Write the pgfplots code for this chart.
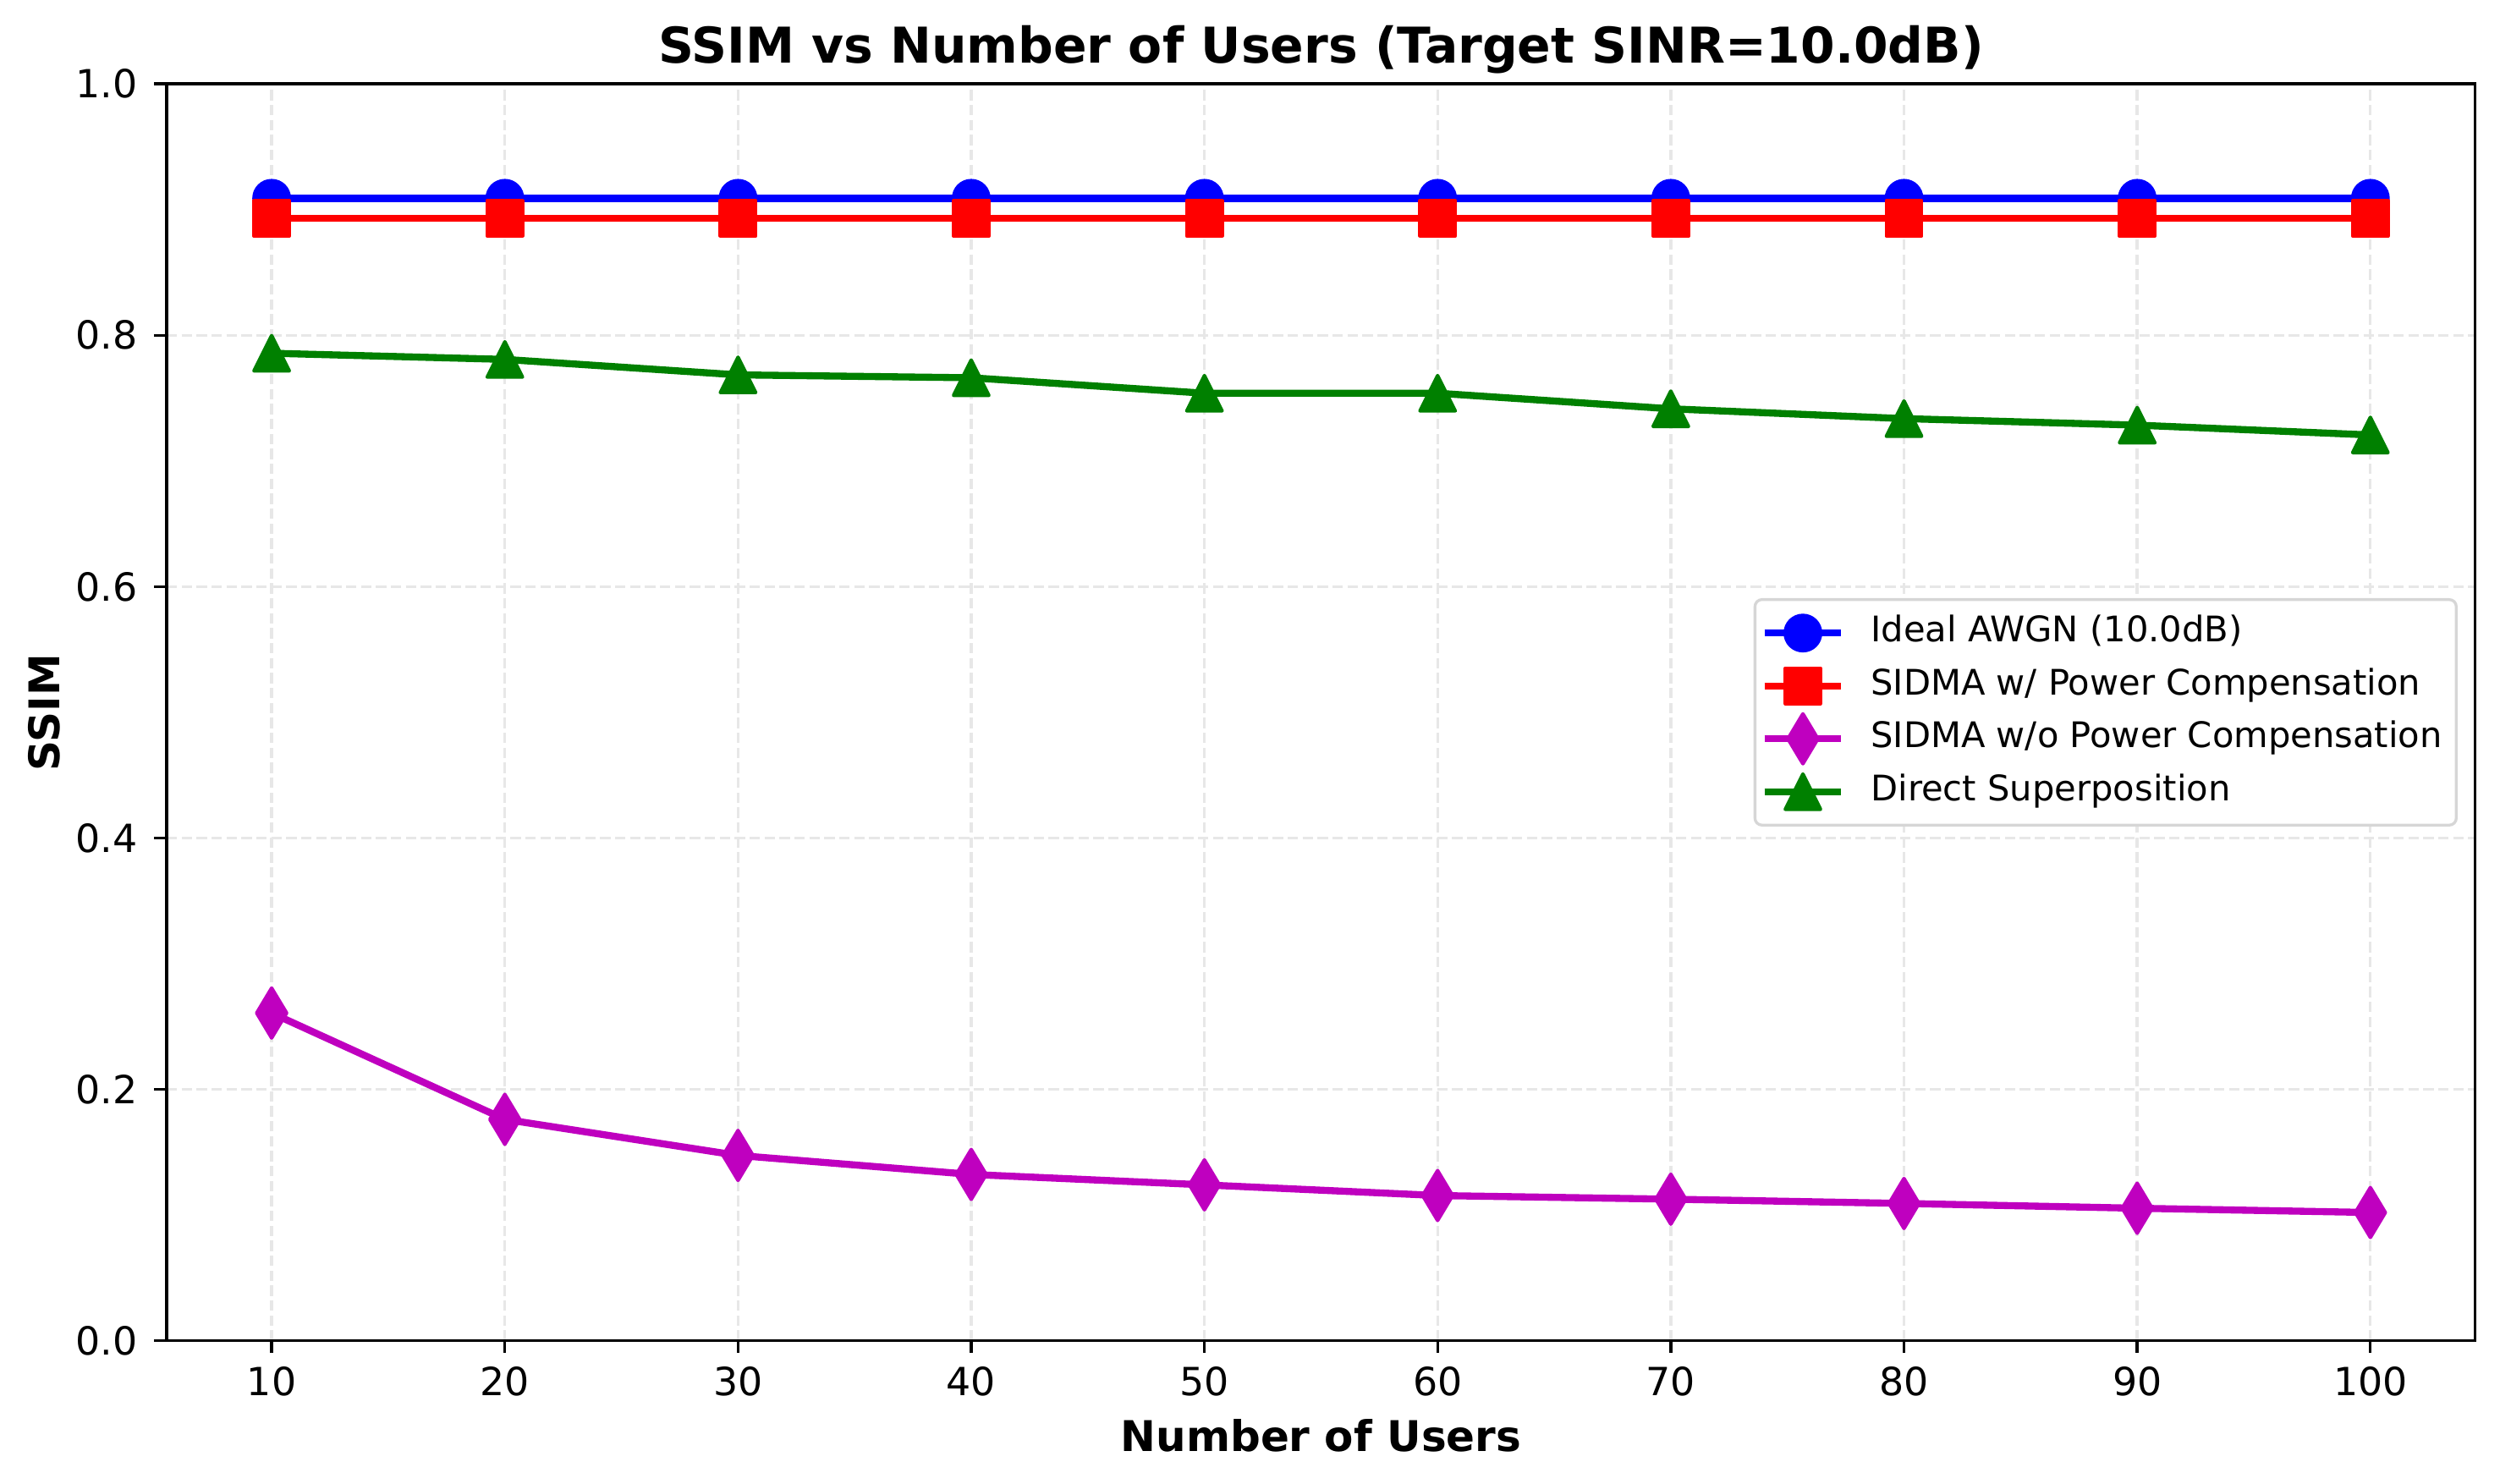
\documentclass[border=0pt]{standalone}
\usepackage{pgfplots}
\pgfplotsset{compat=1.18}
\usepackage{fontspec}
\setmainfont{DejaVu Sans}
\definecolor{mplblue}{rgb}{0,0,1}
\definecolor{mplred}{rgb}{1,0,0}
\definecolor{mplmag}{rgb}{0.75,0,0.75}
\definecolor{mplgreen}{rgb}{0,0.5,0}
\definecolor{gridc}{RGB}{231,231,231}
\definecolor{legedge}{RGB}{214,214,214}
\pgfdeclareplotmark{mpltri}{%
  \pgfpathmoveto{\pgfqpoint{0pt}{\pgfplotmarksize}}%
  \pgfpathlineto{\pgfqpoint{-\pgfplotmarksize}{-\pgfplotmarksize}}%
  \pgfpathlineto{\pgfqpoint{\pgfplotmarksize}{-\pgfplotmarksize}}%
  \pgfpathclose\pgfusepathqfillstroke}
\pgfdeclareplotmark{mplthind}{%
  \pgfpathmoveto{\pgfqpoint{0pt}{1.414\pgfplotmarksize}}%
  \pgfpathlineto{\pgfqpoint{0.849\pgfplotmarksize}{0pt}}%
  \pgfpathlineto{\pgfqpoint{0pt}{-1.414\pgfplotmarksize}}%
  \pgfpathlineto{\pgfqpoint{-0.849\pgfplotmarksize}{0pt}}%
  \pgfpathclose\pgfusepathqfillstroke}
\begin{document}
\begin{tikzpicture}
\useasboundingbox (-47.3pt,-40.6pt) rectangle (662pt,380.4pt);
\begin{axis}[
  at={(0,0)}, anchor=south west,
  scale only axis, width=655pt, height=356.6pt,
  xmin=5.5, xmax=104.5, ymin=0, ymax=1,
  xtick={10,20,30,40,50,60,70,80,90,100},
  ytick={0,0.2,0.4,0.6,0.8,1.0},
  yticklabel style={/pgf/number format/fixed, /pgf/number format/fixed zerofill, /pgf/number format/precision=1},
  /pgf/number format/assume math mode=true,
  tick label style={font=\fontsize{11}{13.2}\selectfont},
  xticklabel style={anchor=base, yshift=-15.6pt},
  yticklabel style={anchor=east, inner xsep=0pt, xshift=-8.1pt},
  tick align=inside, major tick length=-3.5pt,
  tick pos=left,
  tick style={black, line width=0.8pt},
  axis line style={line width=0.8pt},
  grid=major,
  major grid style={solid, dash pattern=on 2.96pt off 1.28pt, line width=0.8pt, color=gridc},
  title={SSIM vs Number of Users (Target SINR=10.0dB)},
  title style={font=\bfseries\fontsize{14}{16.8}\selectfont, at={(axis description cs:0.5,1.0163)}, anchor=base, yshift=-6pt},
  xlabel={Number of Users},
  xlabel style={font=\bfseries\fontsize{12}{14.4}\selectfont, at={(axis description cs:0.5,-0.0881)}, anchor=base},
  ylabel={SSIM},
  ylabel style={font=\bfseries\fontsize{12}{14.4}\selectfont, at={(axis description cs:-0.04656,0.5)}, anchor=base},
  legend style={
    at={(axis description cs:1,0.5)}, anchor=east, xshift=-5pt,
    font=\fontsize{10}{12}\selectfont,
    draw=legedge, fill=white, line width=0.8pt, rounded corners=2pt,
    inner xsep=1.7pt, inner ysep=2pt, row sep=0pt,
    nodes={inner xsep=1pt, inner ysep=2.5pt, text height=7.5pt, text depth=2.5pt},
    /tikz/every odd column/.append style={column sep=5.1pt},
    /tikz/every even column/.append style={nodes={inner xsep=2.3pt}},
  },
  legend cell align=left,
  legend image code/.code={\draw[mark repeat=2, mark phase=2] plot coordinates {(0pt,0pt) (10.9pt,0pt) (21.8pt,0pt)};},
  every axis plot/.append style={line width=2pt, line join=round, mark size=5pt, mark options={solid, line width=1pt}},
]
\addplot[color=mplblue, mark=*] coordinates {
 (10,0.909) (20,0.909) (30,0.909) (40,0.909) (50,0.909) (60,0.909) (70,0.909) (80,0.909) (90,0.909) (100,0.909)};
\addlegendentry{Ideal AWGN (10.0dB)}
\addplot[color=mplred, mark=square*] coordinates {
 (10,0.893) (20,0.893) (30,0.893) (40,0.893) (50,0.893) (60,0.893) (70,0.893) (80,0.893) (90,0.893) (100,0.893)};
\addlegendentry{SIDMA w/ Power Compensation}
\addplot[color=mplmag, mark=mplthind] coordinates {
 (10,0.2608) (20,0.1762) (30,0.1475) (40,0.1324) (50,0.1241) (60,0.1156) (70,0.1127) (80,0.1093) (90,0.1055) (100,0.1021)};
\addlegendentry{SIDMA w/o Power Compensation}
\addplot[color=mplgreen, mark=mpltri] coordinates {
 (10,0.7857) (20,0.7808) (30,0.7685) (40,0.7662) (50,0.7539) (60,0.7539) (70,0.7415) (80,0.7337) (90,0.7285) (100,0.7207)};
\addlegendentry{Direct Superposition}
\end{axis}
\end{tikzpicture}
\end{document}
